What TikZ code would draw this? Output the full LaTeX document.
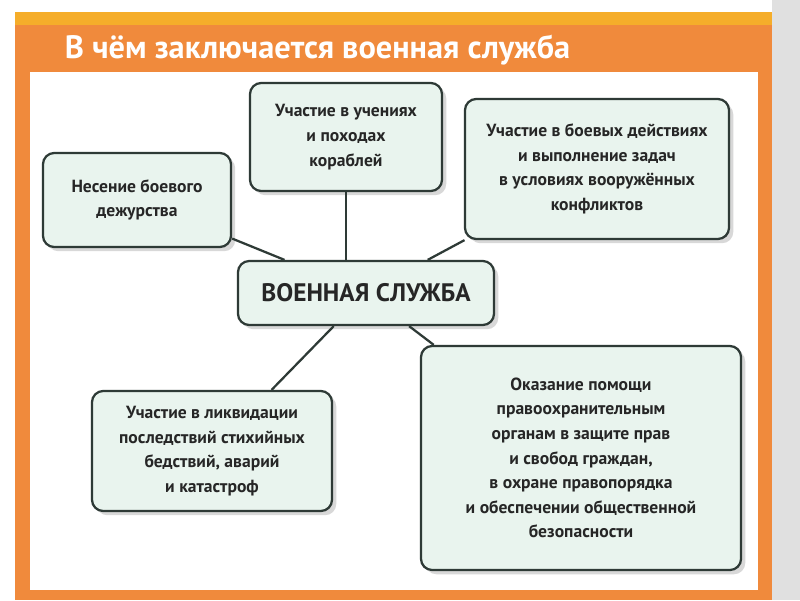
\documentclass[tikz,border=0pt]{standalone}
\usepackage{fontspec}
\setmainfont{PT Sans}
\usetikzlibrary{shadows}
\definecolor{mint}{HTML}{E9F4EE}
\definecolor{frameor}{HTML}{F08A3C}
\definecolor{bord}{HTML}{2E3A36}
\begin{document}
\begin{tikzpicture}[x=0.025cm,y=-0.025cm,
  box/.style={draw=bord,line width=1.6pt,fill=mint,rounded corners=8pt,align=center,
    font=\fontsize{12.5}{17.5}\selectfont\bfseries,text=black!85,
    drop shadow={shadow xshift=3pt,shadow yshift=-3pt,fill=black!30}},
  conn/.style={draw=bord,line width=1.6pt}]
\useasboundingbox (0,0) rectangle (800,600);
\fill[white] (0,0) rectangle (800,600);
\fill[black!12] (772,0) rectangle (800,600);
\fill[frameor] (15,12) rectangle (772,600);
\fill[frameor!70!yellow] (15,12) rectangle (772,25);
\fill[white] (30,72) rectangle (758,590);
\node[anchor=west,text=white,font=\fontsize{23}{26}\selectfont\bfseries] (title) at (60,50) {В чём заключается военная служба};
\node[box,minimum width=6.4cm,minimum height=1.6cm,font=\fontsize{18}{21}\selectfont\bfseries] (c) at (366,293) {ВОЕННАЯ СЛУЖБА};
\node[box,minimum width=4.7cm,minimum height=2.35cm] (a) at (137,200) {Несение боевого\\дежурства};
\node[box,minimum width=4.8cm,minimum height=2.7cm] (b) at (346,137) {Участие в учениях\\и походах\\кораблей};
\node[box,minimum width=6.6cm,minimum height=3.5cm] (d) at (597,169) {Участие в боевых действиях\\и выполнение задач\\в условиях вооружённых\\конфликтов};
\node[box,minimum width=6cm,minimum height=3cm] (e) at (212,451) {Участие в ликвидации\\последствий стихийных\\бедствий, аварий\\и катастроф};
\node[box,minimum width=8cm,minimum height=5.6cm] (f) at (581,458) {Оказание помощи\\правоохранительным\\органам в защите прав\\и свобод граждан,\\в охране правопорядка\\и обеспечении общественной\\безопасности};
\draw[conn] (a) -- (c);
\draw[conn] (b.south) -- (b.south |- c.north);
\draw[conn] (d) -- (c);
\draw[conn] (e) -- (c);
\draw[conn] (f) -- (c);
\end{tikzpicture}
\end{document}
